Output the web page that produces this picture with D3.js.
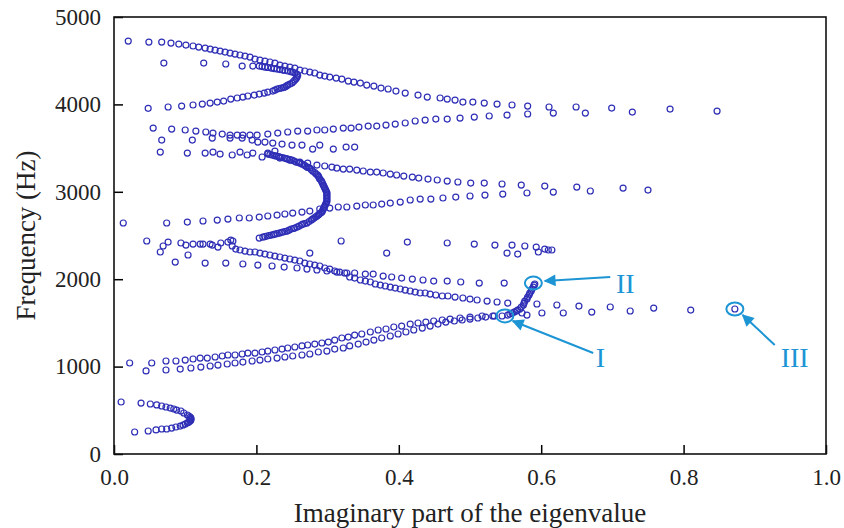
<!DOCTYPE html>
<html>
<head>
<meta charset="utf-8">
<script src="https://cdn.jsdelivr.net/npm/d3@7"></script>
<style>
  body { margin: 0; background: #fff; }
  svg text { font-family: "Liberation Serif", "Times New Roman", serif; }
</style>
</head>
<body>
<div id="chart"></div>
<script>
// chart size
const width = 844;
const height = 528;
const margin = {top: 17, right: 18, bottom: 74, left: 114};

// axis ticks
const xTicks = [0, 0.2, 0.4, 0.6, 0.8, 1.0];
const yTicks = [0, 1000, 2000, 3000, 4000, 5000];

// eigenvalue branches, [imaginary part, frequency Hz]
const branchA = [[0.020,4725],[0.049,4713],[0.067,4713],[0.080,4702],[0.091,4690],[0.101,4679],[0.111,4668],[0.119,4656],[0.128,4645],[0.135,4633],[0.142,4622],[0.149,4610],[0.156,4599],[0.163,4587],[0.170,4576],[0.177,4565],[0.184,4553],[0.191,4542],[0.198,4519],[0.205,4507],[0.212,4496],[0.219,4485],[0.226,4473],[0.233,4450],[0.240,4439],[0.247,4427],[0.254,4416],[0.261,4393],[0.268,4382],[0.275,4370],[0.282,4359],[0.289,4336],[0.296,4324],[0.303,4313],[0.312,4301],[0.320,4290],[0.329,4267],[0.337,4256],[0.346,4244],[0.355,4221],[0.365,4210],[0.375,4187],[0.385,4176],[0.396,4153],[0.409,4130],[0.427,4107],[0.440,4084],[0.458,4073],[0.468,4061],[0.479,4050],[0.490,4027],[0.504,4027],[0.520,4015],[0.538,4004],[0.559,3993],[0.581,3981],[0.611,3970],[0.649,3970],[0.699,3958],[0.781,3947],[0.847,3924]];

const branchB = [[0.048,3955],[0.076,3970],[0.095,3981],[0.111,3993],[0.124,4004],[0.135,4015],[0.145,4027],[0.154,4038],[0.164,4061],[0.173,4073],[0.181,4084],[0.188,4096],[0.197,4107],[0.204,4118],[0.211,4130],[0.216,4141],[0.223,4153],[0.226,4164],[0.229,4176],[0.232,4182],[0.235,4187],[0.238,4193],[0.240,4198],[0.242,4210],[0.244,4221],[0.247,4233],[0.250,4244],[0.252,4262],[0.254,4279],[0.256,4296],[0.257,4313],[0.258,4330],[0.257,4347],[0.254,4359],[0.251,4370],[0.248,4376],[0.244,4382],[0.240,4388],[0.237,4393],[0.233,4399],[0.229,4404],[0.225,4410],[0.221,4416],[0.216,4422],[0.212,4427],[0.208,4433],[0.204,4439],[0.195,4439],[0.180,4439],[0.157,4462],[0.126,4473],[0.070,4473]];

const rowC1 = [[0.055,3729],[0.081,3718],[0.100,3707],[0.115,3695],[0.129,3684],[0.139,3672],[0.152,3661],[0.163,3649],[0.173,3649],[0.181,3649],[0.191,3649],[0.201,3649],[0.216,3661],[0.230,3672],[0.244,3684],[0.258,3695],[0.272,3695],[0.285,3707],[0.296,3707],[0.308,3718],[0.322,3729],[0.333,3729],[0.344,3741],[0.357,3752],[0.369,3752],[0.382,3764],[0.395,3775],[0.409,3787],[0.423,3810],[0.437,3821],[0.452,3832],[0.468,3832],[0.486,3844],[0.506,3855],[0.527,3867],[0.552,3878],[0.581,3890],[0.617,3901],[0.662,3901],[0.728,3912]];

const rowC2 = [[0.067,3592],[0.110,3592],[0.138,3615],[0.163,3615],[0.180,3615],[0.194,3592],[0.202,3569],[0.212,3569],[0.223,3558],[0.236,3546],[0.250,3535],[0.264,3535],[0.279,3489],[0.289,3535],[0.308,3489],[0.326,3512],[0.338,3512]];

const rowC3 = [[0.065,3455],[0.103,3443],[0.128,3443],[0.139,3455],[0.149,3432],[0.166,3421],[0.177,3455],[0.187,3421],[0.195,3443],[0.208,3398],[0.216,3443],[0.226,3466],[0.233,3386],[0.247,3363],[0.261,3340],[0.272,3329],[0.285,3306],[0.296,3295],[0.306,3283],[0.313,3272],[0.322,3260],[0.331,3260],[0.341,3249],[0.350,3238],[0.360,3226],[0.369,3226],[0.378,3215],[0.388,3203],[0.397,3192],[0.407,3180],[0.419,3169],[0.428,3157],[0.441,3146],[0.454,3135],[0.468,3123],[0.483,3112],[0.501,3100],[0.520,3100],[0.545,3089],[0.572,3077],[0.605,3066],[0.650,3054],[0.715,3043]];

const rowC5 = [[0.013,2643],[0.074,2643],[0.103,2654],[0.125,2666],[0.145,2677],[0.160,2688],[0.176,2700],[0.190,2700],[0.204,2711],[0.216,2723],[0.229,2734],[0.240,2746],[0.251,2757],[0.264,2768],[0.275,2780],[0.289,2803],[0.303,2814],[0.315,2826],[0.327,2826],[0.341,2837],[0.353,2849],[0.364,2849],[0.376,2860],[0.388,2871],[0.402,2883],[0.416,2906],[0.430,2917],[0.445,2917],[0.462,2929],[0.480,2940],[0.500,2952],[0.521,2963],[0.546,2974],[0.580,2986],[0.617,2997],[0.669,3009],[0.750,3020]];

const branchD = [[0.216,3432],[0.219,3426],[0.222,3421],[0.225,3415],[0.228,3409],[0.231,3403],[0.233,3398],[0.236,3392],[0.239,3386],[0.242,3380],[0.244,3375],[0.247,3369],[0.250,3363],[0.253,3352],[0.256,3340],[0.259,3335],[0.261,3329],[0.264,3318],[0.267,3306],[0.269,3295],[0.271,3283],[0.273,3278],[0.275,3272],[0.277,3255],[0.279,3238],[0.282,3220],[0.284,3203],[0.286,3192],[0.287,3180],[0.288,3163],[0.289,3146],[0.291,3129],[0.292,3112],[0.293,3095],[0.294,3077],[0.295,3060],[0.296,3043],[0.297,3026],[0.298,3009],[0.299,2991],[0.299,2974],[0.299,2957],[0.299,2940],[0.299,2923],[0.299,2906],[0.299,2888],[0.298,2871],[0.297,2854],[0.296,2837],[0.295,2820],[0.294,2803],[0.293,2786],[0.292,2768],[0.290,2757],[0.288,2746],[0.287,2734],[0.285,2723],[0.283,2711],[0.281,2700],[0.279,2688],[0.277,2677],[0.274,2660],[0.271,2643],[0.268,2637],[0.265,2631],[0.263,2620],[0.260,2608],[0.257,2597],[0.254,2585],[0.252,2580],[0.249,2574],[0.246,2562],[0.243,2551],[0.240,2545],[0.237,2540],[0.235,2534],[0.232,2528],[0.229,2522],[0.226,2517],[0.224,2511],[0.221,2505],[0.218,2500],[0.215,2494],[0.212,2488],[0.209,2482],[0.204,2471]];

const branchE = [[0.166,2380],[0.171,2345],[0.177,2334],[0.184,2322],[0.191,2311],[0.198,2311],[0.205,2299],[0.212,2288],[0.219,2277],[0.226,2265],[0.233,2254],[0.240,2242],[0.247,2231],[0.254,2219],[0.261,2208],[0.268,2185],[0.275,2174],[0.282,2162],[0.289,2151],[0.296,2128],[0.303,2116],[0.310,2094],[0.317,2082],[0.324,2071],[0.331,2025],[0.338,2013],[0.346,1991],[0.353,1979],[0.360,1968],[0.367,1945],[0.374,1933],[0.381,1922],[0.388,1910],[0.395,1899],[0.402,1888],[0.409,1876],[0.416,1865],[0.423,1853],[0.430,1842],[0.437,1842],[0.444,1830],[0.452,1819],[0.461,1808],[0.469,1808],[0.479,1796],[0.490,1785],[0.500,1773],[0.510,1762],[0.524,1750],[0.538,1739],[0.553,1727]];

const rowF = [[0.065,2311],[0.086,2196],[0.104,2277],[0.128,2185],[0.157,2185],[0.181,2174],[0.202,2162],[0.222,2151],[0.239,2139],[0.257,2128],[0.271,2116],[0.285,2105],[0.299,2094],[0.313,2082],[0.327,2071],[0.338,2071],[0.353,2059],[0.364,2059],[0.378,2036],[0.390,2025],[0.404,2013],[0.419,2002],[0.434,1991],[0.449,1979],[0.468,1979],[0.487,1968],[0.513,1956],[0.548,1956]];

const cluster2400 = [[0.046,2437],[0.069,2380],[0.076,2425],[0.094,2414],[0.101,2391],[0.111,2402],[0.121,2402],[0.125,2402],[0.135,2402],[0.138,2391],[0.146,2368],[0.150,2414],[0.160,2425],[0.164,2448],[0.167,2437]];

const sparse2400 = [[0.275,2299],[0.319,2437],[0.383,2299],[0.412,2425],[0.468,2414],[0.506,2402],[0.535,2391],[0.559,2391],[0.552,2299],[0.567,2288],[0.577,2380],[0.593,2368],[0.596,2311],[0.605,2345],[0.610,2334],[0.615,2334]];

const rowHupper = [[0.022,1041],[0.053,1041],[0.073,1064],[0.087,1064],[0.100,1075],[0.111,1087],[0.121,1098],[0.131,1098],[0.142,1110],[0.152,1121],[0.160,1133],[0.170,1133],[0.180,1144],[0.188,1155],[0.198,1155],[0.208,1167],[0.216,1178],[0.226,1190],[0.236,1201],[0.244,1213],[0.254,1224],[0.264,1236],[0.272,1247],[0.282,1258],[0.292,1270],[0.301,1281],[0.310,1304],[0.320,1327],[0.329,1338],[0.338,1361],[0.348,1373],[0.360,1396],[0.371,1419],[0.382,1430],[0.393,1453],[0.404,1464],[0.416,1487],[0.427,1499],[0.438,1510],[0.449,1522],[0.461,1533],[0.472,1544],[0.486,1556],[0.500,1567],[0.517,1579],[0.532,1579]];

const rowHlower = [[0.045,950],[0.073,961],[0.093,972],[0.108,984],[0.122,995],[0.135,1007],[0.146,1018],[0.159,1030],[0.170,1041],[0.181,1052],[0.194,1064],[0.205,1075],[0.216,1087],[0.229,1098],[0.240,1110],[0.251,1121],[0.264,1133],[0.275,1144],[0.287,1167],[0.299,1178],[0.310,1201],[0.322,1213],[0.331,1236],[0.343,1258],[0.354,1281],[0.365,1304],[0.376,1327],[0.388,1350],[0.399,1373],[0.410,1396],[0.421,1419],[0.433,1441],[0.444,1464],[0.455,1487],[0.466,1510],[0.478,1522],[0.489,1533],[0.500,1544],[0.511,1556],[0.522,1567],[0.534,1579],[0.545,1579]];

const barIII = [[0.553,1590],[0.556,1602],[0.559,1613],[0.562,1624],[0.565,1636],[0.567,1647],[0.570,1659],[0.572,1682],[0.575,1705],[0.576,1727],[0.577,1750],[0.580,1773],[0.581,1796],[0.583,1819],[0.584,1842],[0.586,1865],[0.587,1888],[0.589,1910],[0.590,1933],[0.591,1945]];

const rowG = [[0.573,1613],[0.580,1590],[0.594,1716],[0.601,1613],[0.622,1705],[0.631,1613],[0.653,1693],[0.671,1624],[0.697,1682],[0.725,1636],[0.758,1670],[0.810,1647],[0.872,1659]];

const branchJ = [[0.010,595],[0.038,583],[0.051,572],[0.060,561],[0.067,549],[0.073,538],[0.079,526],[0.084,515],[0.088,503],[0.094,492],[0.098,469],[0.103,446],[0.105,435],[0.107,423],[0.108,411],[0.108,400],[0.108,389],[0.107,377],[0.105,366],[0.103,355],[0.100,343],[0.097,332],[0.093,320],[0.087,309],[0.081,297],[0.074,286],[0.067,286],[0.059,275],[0.048,263],[0.029,252]];

// annotations I, II, III
const markLabels = ["I", "II", "III"];
const markCentres = [[0.549,1580],[0.589,1956],[0.872,1659]];
const arrowTails = [[0.673,1155],[0.697,2025],[0.928,1247]];
const arrowTips = [[0.560,1522],[0.605,1979],[0.883,1590]];
const labelSpots = [[0.683,1110],[0.718,1956],[0.956,1110]];

const allPoints = [].concat(branchA, branchB, rowC1, rowC2, rowC3, rowC5, branchD,
  branchE, rowF, cluster2400, sparse2400, rowHupper, rowHlower, barIII, rowG, branchJ);

const svg = d3.select("#chart")
  .append("svg")
  .attr("width", width)
  .attr("height", height);

const x = d3.scaleLinear().domain([0, 1]).range([margin.left, width - margin.right]);
const y = d3.scaleLinear().domain([0, 5000]).range([height - margin.bottom, margin.top]);

// axes, ticks pointing inward
svg.append("g")
  .attr("transform", `translate(0,${y(0)})`)
  .attr("font-family", "Liberation Serif")
  .call(d3.axisBottom(x).tickValues(xTicks).tickFormat(d3.format(".1f"))
    .tickSizeInner(-9).tickSizeOuter(0).tickPadding(15))
  .call(g => g.select(".domain").remove())
  .call(g => g.selectAll("line").attr("stroke", "#000").attr("stroke-width", 1.5))
  .call(g => g.selectAll("text").attr("font-size", 23).attr("fill", "#222"));

svg.append("g")
  .attr("transform", `translate(${x(0)},0)`)
  .attr("font-family", "Liberation Serif")
  .call(d3.axisLeft(y).tickValues(yTicks).tickFormat(d3.format("d"))
    .tickSizeInner(-9).tickSizeOuter(0).tickPadding(13))
  .call(g => g.select(".domain").remove())
  .call(g => g.selectAll("line").attr("stroke", "#000").attr("stroke-width", 1.5))
  .call(g => g.selectAll("text").attr("font-size", 23).attr("fill", "#222"));

// frame
svg.append("rect")
  .attr("x", x(0))
  .attr("y", y(5000))
  .attr("width", x(1) - x(0))
  .attr("height", y(0) - y(5000))
  .attr("fill", "none")
  .attr("stroke", "#111")
  .attr("stroke-width", 1.6);

// points
svg.append("g")
  .selectAll("circle")
  .data(allPoints)
  .enter()
  .append("circle")
  .attr("cx", d => x(d[0]))
  .attr("cy", d => y(d[1]))
  .attr("r", 3)
  .attr("fill", "none")
  .attr("stroke", "#2e2eb6")
  .attr("stroke-width", 1.2);

// axis titles
svg.append("text")
  .attr("x", (x(0) + x(1)) / 2)
  .attr("y", 522)
  .attr("text-anchor", "middle")
  .attr("font-size", 27)
  .attr("fill", "#222")
  .text("Imaginary part of the eigenvalue");

svg.append("text")
  .attr("transform", `translate(35,${(y(0) + y(5000)) / 2}) rotate(-90)`)
  .attr("text-anchor", "middle")
  .attr("font-size", 27)
  .attr("fill", "#222")
  .text("Frequency (Hz)");

// annotations
const cyan = "#1d95d4";
svg.append("defs").append("marker")
  .attr("id", "head")
  .attr("viewBox", "0 0 10 10")
  .attr("refX", 9)
  .attr("refY", 5)
  .attr("markerWidth", 7)
  .attr("markerHeight", 6)
  .attr("markerUnits", "strokeWidth")
  .attr("orient", "auto")
  .append("path")
  .attr("d", "M0,0 L10,5 L0,10 Z")
  .attr("fill", cyan);

const ann = svg.append("g");
markLabels.forEach((label, i) => {
  ann.append("ellipse")
    .attr("cx", x(markCentres[i][0]))
    .attr("cy", y(markCentres[i][1]))
    .attr("rx", 8.5)
    .attr("ry", 6.5)
    .attr("fill", "none")
    .attr("stroke", cyan)
    .attr("stroke-width", 2);
  ann.append("line")
    .attr("x1", x(arrowTails[i][0]))
    .attr("y1", y(arrowTails[i][1]))
    .attr("x2", x(arrowTips[i][0]))
    .attr("y2", y(arrowTips[i][1]))
    .attr("stroke", cyan)
    .attr("stroke-width", 2)
    .attr("marker-end", "url(#head)");
  ann.append("text")
    .attr("x", x(labelSpots[i][0]))
    .attr("y", y(labelSpots[i][1]))
    .attr("dy", "0.35em")
    .attr("text-anchor", "middle")
    .attr("font-size", 28)
    .attr("fill", cyan)
    .text(label);
});
</script>
</body>
</html>
